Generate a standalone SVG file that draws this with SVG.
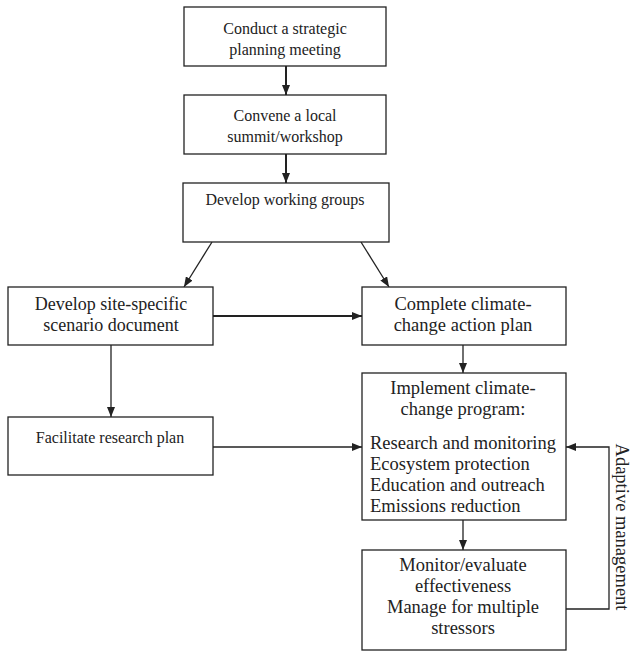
<svg xmlns="http://www.w3.org/2000/svg" width="631" height="653" viewBox="0 0 631 653">
<style>
.box{fill:#fff;stroke:#222;stroke-width:1.3}
text{font-family:"Liberation Serif","Times New Roman",serif;font-size:16px;fill:#222}
.big{font-size:18.5px}
.mid{font-size:18px}
.c{text-anchor:middle}
.ln{fill:none;stroke:#222;stroke-width:1.3}
.th{fill:none;stroke:#222;stroke-width:2}
</style>
<defs>
<marker id="ah" markerWidth="10" markerHeight="8" refX="10" refY="4" orient="auto" markerUnits="userSpaceOnUse">
<path d="M0,0 L10,4 L0,8 Z" fill="#222"/>
</marker>
</defs>
<rect width="631" height="653" fill="#fff"/>
<g id="connectors">
<line class="th" x1="286" y1="66" x2="286" y2="95" marker-end="url(#ah)"/>
<line class="th" x1="286" y1="154" x2="286" y2="183" marker-end="url(#ah)"/>
<line class="ln" x1="212" y1="242" x2="184" y2="287" marker-end="url(#ah)"/>
<line class="ln" x1="361" y1="242" x2="389" y2="287" marker-end="url(#ah)"/>
<line class="th" x1="213" y1="316" x2="362" y2="316" marker-end="url(#ah)"/>
<line class="ln" x1="111" y1="345" x2="111" y2="417" marker-end="url(#ah)"/>
<line class="ln" x1="213" y1="447" x2="362" y2="447" marker-end="url(#ah)"/>
<line class="ln" x1="463" y1="345" x2="463" y2="373" marker-end="url(#ah)"/>
<line class="ln" x1="463" y1="520" x2="463" y2="550" marker-end="url(#ah)"/>
<polyline class="ln" points="566,609 609,609 609,447 566,447" marker-end="url(#ah)"/>
</g>
<g id="n1"><rect class="box" x="184" y="7" width="202" height="59"/>
<text class="c" x="285" y="34">Conduct a strategic</text><text class="c" x="285" y="55">planning meeting</text></g>
<g id="n2"><rect class="box" x="184" y="95" width="202" height="59"/>
<text class="c" x="285" y="121">Convene a local</text><text class="c" x="285" y="142">summit/workshop</text></g>
<g id="n3"><rect class="box" x="183" y="183" width="206" height="59"/>
<text class="c" x="285" y="205">Develop working groups</text></g>
<g id="n4"><rect class="box" x="8" y="287" width="205" height="58"/>
<text class="c mid" x="111" y="310">Develop site-specific</text><text class="c mid" x="111" y="331">scenario document</text></g>
<g id="n5"><rect class="box" x="362" y="287" width="204" height="58"/>
<text class="c big" x="463" y="310">Complete climate-</text><text class="c big" x="463" y="331">change action plan</text></g>
<g id="n6"><rect class="box" x="8" y="417" width="205" height="58"/>
<text class="c" x="110" y="443">Facilitate research plan</text></g>
<g id="n7"><rect class="box" x="362" y="373" width="204" height="147"/>
<text class="c big" x="463" y="394">Implement climate-</text><text class="c big" x="463" y="415">change program:</text>
<text class="big" x="370" y="449">Research and monitoring</text><text class="big" x="370" y="470">Ecosystem protection</text>
<text class="big" x="370" y="491">Education and outreach</text><text class="big" x="370" y="512">Emissions reduction</text></g>
<g id="n8"><rect class="box" x="362" y="550" width="204" height="100"/>
<text class="c big" x="463" y="571">Monitor/evaluate</text><text class="c big" x="463" y="592">effectiveness</text>
<text class="c big" x="463" y="613">Manage for multiple</text><text class="c big" x="463" y="634">stressors</text></g>
<g id="label"><text class="c big" transform="translate(616,527) rotate(90)">Adaptive management</text></g>
</svg>
